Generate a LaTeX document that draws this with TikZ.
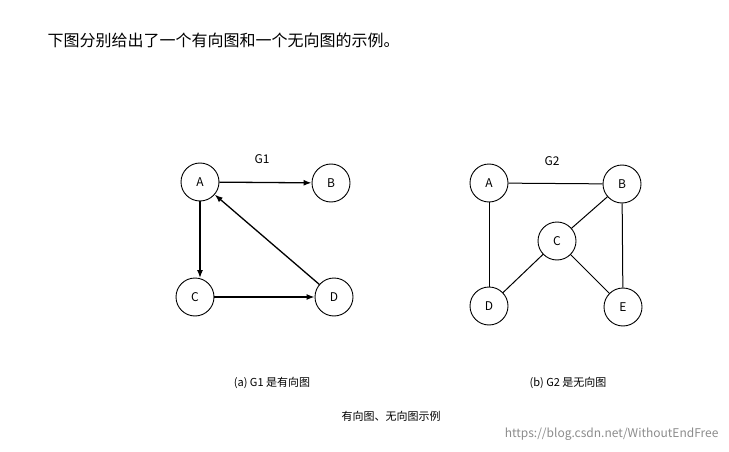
\documentclass[tikz,border=0pt]{standalone}
\usepackage{fontspec}
\setmainfont{Noto Sans CJK SC}
\usetikzlibrary{arrows.meta}
\tikzset{
    vtx/.style={draw, circle, line width=0.9pt, minimum size=38pt, inner sep=0pt, font=\fontsize{12}{12}\selectfont},
    arc/.style={-{Latex[length=8pt,width=6pt]}, line width=1.3pt},
    edge/.style={line width=1pt},
    captext/.style={font=\fontsize{11}{11}\selectfont}
}
\begin{document}
\begin{tikzpicture}[x=1pt,y=-1pt]
    \useasboundingbox (0,0) rectangle (729,452);
    \node[anchor=west, font=\fontsize{16}{16}\selectfont] (title) at (44,40) {下图分别给出了一个有向图和一个无向图的示例。};

    % directed graph
    \node[vtx] (a1) at (200,182) {A};
    \node[vtx] (b1) at (331,183) {B};
    \node[vtx] (c1) at (195,297) {C};
    \node[vtx] (d1) at (334,297) {D};
    \node[font=\fontsize{12}{12}\selectfont] (g1) at (262,159) {G1};
    \coordinate (c1top) at (200,278);
    \draw[arc] (a1) -- (b1);
    \draw[arc] (a1.south) -- (c1top);
    \draw[arc] (c1) -- (d1);
    \draw[arc] (d1) -- (a1);

    % undirected graph
    \node[vtx] (a2) at (489,183) {A};
    \node[vtx] (b2) at (622,184) {B};
    \node[vtx] (c2) at (557,241) {C};
    \node[vtx] (d2) at (489,306) {D};
    \node[vtx] (e2) at (623,307) {E};
    \node[font=\fontsize{12}{12}\selectfont] (g2) at (552,161) {G2};
    \draw[edge] (a2) -- (b2);
    \draw[edge] (a2) -- (d2);
    \draw[edge] (b2) -- (c2);
    \draw[edge] (b2) -- (e2);
    \draw[edge] (c2) -- (d2);
    \draw[edge] (c2) -- (e2);

    \node[captext] (capa) at (272,383) {(a) G1 是有向图};
    \node[captext] (capb) at (568,383) {(b) G2 是无向图};
    \node[captext] (capm) at (391,416) {有向图、无向图示例};
    \node[anchor=east, text=black!45, font=\fontsize{12}{12}\selectfont] (mark) at (722,434) {https://blog.csdn.net/WithoutEndFree};
\end{tikzpicture}
\end{document}
